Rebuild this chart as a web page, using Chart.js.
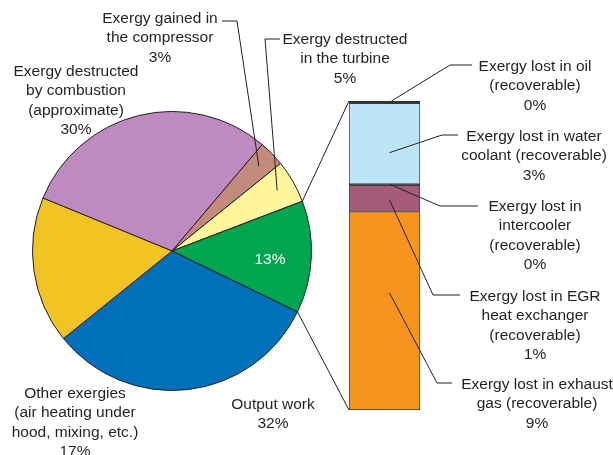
<!DOCTYPE html>
<html><head><meta charset="utf-8">
<script src="https://cdn.jsdelivr.net/npm/chart.js@4"></script>
<style>
html,body{margin:0;padding:0;background:#fff;}
#wrap{position:relative;width:613px;height:455px;overflow:hidden;}
canvas{position:absolute;left:0;top:0;}
.lbl{position:absolute;transform:translateX(-50%);white-space:pre;text-align:center;font-family:"Liberation Sans",Arial,Helvetica,sans-serif;font-size:15.5px;line-height:19.3px;color:#231f20;}
</style></head>
<body><div id="wrap">
<canvas id="pie" width="613" height="455"></canvas>
<canvas id="bar" width="613" height="455"></canvas>
</div>
<script>
// ---- Data ----
const pieCategories = ["Exergy destructed by combustion (approximate)", "Exergy gained in the compressor", "Exergy destructed in the turbine", "Recoverable losses", "Output work", "Other exergies"];
const pieValues = [30, 3, 5, 13, 32, 17];
const pieColors = ["#bd8bbf", "#c38b7b", "#fff59b", "#00a54f", "#0070bb", "#f1c423"];

const barCategories = ["Exhaust gas", "EGR heat exchanger", "Intercooler", "Water coolant", "Oil"];
const barValues = [8.35, 1.1, 0.05, 3.4, 0.1];
const barColors = ["#f7941e", "#a65b79", "#231f20", "#bce5f8", "#231f20"];

const pieLabelTexts = [
  "Exergy destructed\nby combustion\n(approximate)\n30%",
  "Exergy gained in\nthe compressor\n3%",
  "Exergy destructed\nin the turbine\n5%",
  "13%",
  "Output work\n32%",
  "Other exergies\n(air heating under\nhood, mixing, etc.)\n17%"
];
const barLabelTexts = [
  "Exergy lost in exhaust\ngas (recoverable)\n9%",
  "Exergy lost in EGR\nheat exchanger\n(recoverable)\n1%",
  "Exergy lost in\nintercooler\n(recoverable)\n0%",
  "Exergy lost in water\ncoolant (recoverable)\n3%",
  "Exergy lost in oil\n(recoverable)\n0%"
];

// ---- Label layout (center x, top y) ----
const pieLabelPos = [[76,61],[160,8],[345,29],[270,249],[273,394],[75,383]];
const barLabelPos = [[537,374],[535,286],[535,196],[534,126],[535,56]];

const wrap = document.getElementById('wrap');
function addLabel(text, pos, color){
  const d = document.createElement('div');
  d.className = 'lbl';
  d.textContent = text;
  d.style.left = pos[0] + 'px';
  d.style.top = pos[1] + 'px';
  if (color) d.style.color = color;
  wrap.appendChild(d);
}
pieLabelTexts.forEach((t,i)=>addLabel(t, pieLabelPos[i], i===3 ? '#ffffff' : null));
barLabelTexts.forEach((t,i)=>addLabel(t, barLabelPos[i]));

const INK = '#231f20';

function polyline(ctx, pts){
  ctx.beginPath();
  ctx.moveTo(pts[0][0], pts[0][1]);
  for (let i=1;i<pts.length;i++) ctx.lineTo(pts[i][0], pts[i][1]);
  ctx.stroke();
}

// Pie leader lines (compressor, turbine)
const pieLeaders = {
  1: [[222,21],[237,21]],
  2: [[280,39],[265,39]]
};
const pieLeaderPlugin = {
  id: 'pieLeaders',
  afterDraw(chart){
    const ctx = chart.ctx;
    const arcs = chart.getDatasetMeta(0).data;
    ctx.save();
    ctx.strokeStyle = INK; ctx.lineWidth = 1;
    Object.keys(pieLeaders).forEach(k=>{
      const a = arcs[+k];
      const ang = (a.startAngle + a.endAngle)/2;
      const r = a.outerRadius * 0.87;
      const p = [a.x + r*Math.cos(ang), a.y + r*Math.sin(ang)];
      polyline(ctx, pieLeaders[k].concat([p]));
    });
    ctx.restore();
  }
};

const pieChart = new Chart(document.getElementById('pie'), {
  type: 'pie',
  data: { labels: pieCategories, datasets: [{ data: pieValues, backgroundColor: pieColors, borderColor: INK, borderWidth: 1 }] },
  options: {
    responsive: false, animation: false, rotation: -67.7,
    layout: { padding: { left: 32, right: 301, top: 111, bottom: 64 } },
    plugins: { legend: { display: false }, tooltip: { enabled: false } }
  },
  plugins: [pieLeaderPlugin]
});

// Bar leader lines: [fraction within segment, elbow point, end point]
const barLeaders = [
  [0.41, [437,383], [452,383]],
  [0.55, [433,295], [460,295]],
  [0.0,  [440,206], [478,206]],
  [0.61, [442,135], [458,135]],
  [0.0,  [450,65],  [472,65]]
];
const barPlugin = {
  id: 'barLeaders',
  afterDraw(chart){
    const ctx = chart.ctx;
    ctx.save();
    ctx.strokeStyle = INK; ctx.lineWidth = 1;
    // connectors from pie (green slice edges) to bar corners
    const green = pieChart.getDatasetMeta(0).data[3];
    const R = green.outerRadius;
    const sTop = [green.x + R*Math.cos(green.startAngle), green.y + R*Math.sin(green.startAngle)];
    const sBot = [green.x + R*Math.cos(green.endAngle), green.y + R*Math.sin(green.endAngle)];
    const topEl = chart.getDatasetMeta(barValues.length-1).data[0];
    const botEl = chart.getDatasetMeta(0).data[0];
    const left = topEl.x - topEl.width/2;
    polyline(ctx, [sTop, [left, topEl.y]]);
    polyline(ctx, [sBot, [left, botEl.base]]);
    // leader lines
    barLeaders.forEach((L,i)=>{
      const el = chart.getDatasetMeta(i).data[0];
      const y = el.y + L[0]*(el.base - el.y);
      const x = i===4 ? el.x + 7 : el.x + 5;
      polyline(ctx, [[x,y], L[1], L[2]]);
    });
    ctx.restore();
  }
};

new Chart(document.getElementById('bar'), {
  type: 'bar',
  data: {
    labels: ['Recoverable'],
    datasets: barCategories.map((c,i)=>({
      label: c, data: [barValues[i]], backgroundColor: barColors[i],
      borderColor: '#3a3a3a', borderWidth: 1, borderSkipped: false,
      barPercentage: 1, categoryPercentage: 1
    }))
  },
  options: {
    responsive: false, animation: false,
    layout: { padding: { left: 349, right: 193, top: 101, bottom: 45 } },
    scales: {
      x: { stacked: true, display: false },
      y: { stacked: true, display: false, min: 0, max: 13 }
    },
    plugins: { legend: { display: false }, tooltip: { enabled: false } }
  },
  plugins: [barPlugin]
});
</script>
</body></html>
